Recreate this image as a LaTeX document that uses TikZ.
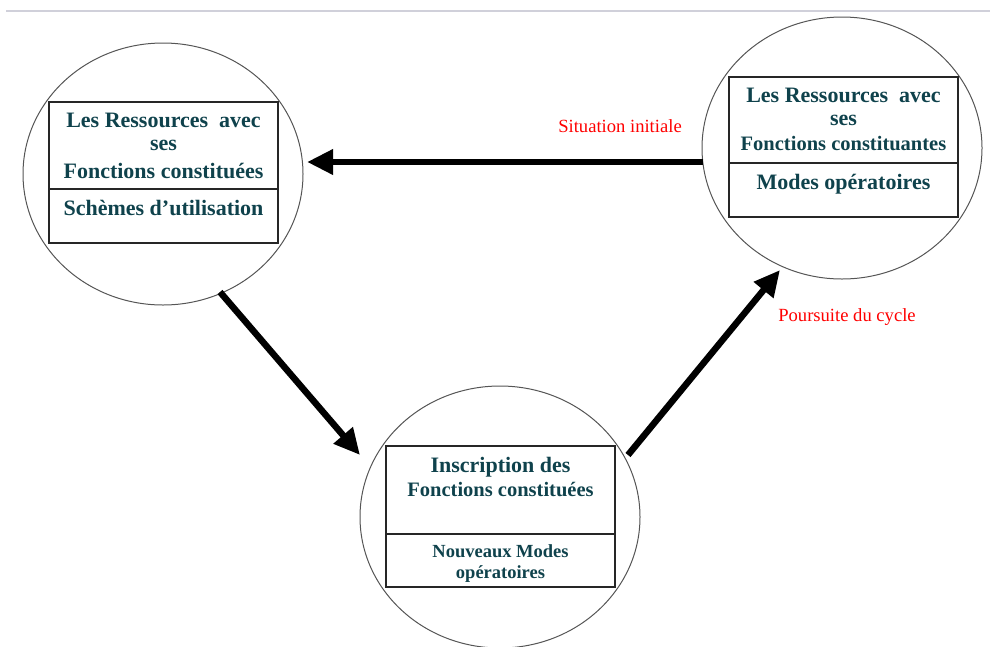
\documentclass[tikz,border=0pt]{standalone}
\usepackage{fontspec}
\setmainfont{Liberation Serif}
\usetikzlibrary{shapes.geometric,arrows.meta}
\definecolor{tealtxt}{RGB}{15,66,76}
\definecolor{circgray}{RGB}{85,85,85}
\definecolor{rulegray}{RGB}{208,208,218}
\tikzset{
  oval/.style={ellipse,draw=circgray,line width=1pt,minimum width=280pt,minimum height=262pt,inner sep=0pt},
  part/.style={rectangle,draw=black!85,line width=1.3pt,minimum width=229pt,inner sep=0pt},
  lbl/.style={anchor=base,text=tealtxt,font=\bfseries\fontsize{22}{24}\selectfont,inner sep=0pt},
  lblm/.style={lbl,font=\bfseries\fontsize{20.5}{22}\selectfont},
  lbls/.style={lbl,font=\bfseries\fontsize{18.5}{20}\selectfont},
  redlbl/.style={anchor=base,text=red,font=\fontsize{18.6}{20}\selectfont,inner sep=0pt},
  bigarrow/.style={line width=6.5pt,-{Triangle[length=26pt,width=24pt]}}
}
\begin{document}
\begin{tikzpicture}[x=1pt,y=-1pt]
\useasboundingbox (0,0) rectangle (990,646);
% top rule
\coordinate (r1) at (6,11);
\coordinate (r2) at (990,11);
\draw[rulegray,line width=1.2pt] (r1) -- (r2);
% ovals
\node[oval] (L) at (163,174) {};
\node[oval] (R) at (842,148) {};
\node[oval] (B) at (500,517) {};
% left box
\node[part,minimum height=87pt] (Lt) at (163.5,145.5) {};
\node[part,minimum height=54pt] (Lb) at (163.5,216) {};
\node[lbl] (l1) at (163.5,127) {Les Ressources~ avec};
\node[lbl] (l2) at (163.5,150) {ses};
\node[lbl] (l3) at (163.5,178) {Fonctions constituées};
\node[lbl] (l4) at (163.5,215) {Schèmes d’utilisation};
% right box
\node[part,minimum height=86pt] (Rt) at (843.5,120) {};
\node[part,minimum height=54pt] (Rb) at (843.5,190) {};
\node[lbl] (r1t) at (843.5,102) {Les Ressources~ avec};
\node[lbl] (r2t) at (843.5,125) {ses};
\node[lblm] (r3t) at (843.5,150) {Fonctions constituantes};
\node[lbl] (r4t) at (843.5,189) {Modes opératoires};
% bottom box
\node[part,minimum height=88pt] (Bt) at (500.5,490) {};
\node[part,minimum height=53pt] (Bb) at (500.5,560.5) {};
\node[lbl] (b1) at (500.5,472) {Inscription des};
\node[lblm] (b2) at (500.5,496) {Fonctions constituées};
\node[lbls] (b3) at (500.5,557) {Nouveaux Modes};
\node[lbls] (b4) at (500.5,578) {opératoires};
% red labels
\node[redlbl] (s1) at (620,132) {Situation initiale};
\node[redlbl] (s2) at (847,321) {Poursuite du cycle};
% arrows
\coordinate (h1) at (703,162);
\coordinate (h2) at (307,162);
\coordinate (d1) at (220,292);
\coordinate (d2) at (360,455);
\coordinate (u1) at (628,455);
\coordinate (u2) at (780,270);
\draw[bigarrow] (h1) -- (h2);
\draw[bigarrow] (d1) -- (d2);
\draw[bigarrow] (u1) -- (u2);
\end{tikzpicture}
\end{document}
